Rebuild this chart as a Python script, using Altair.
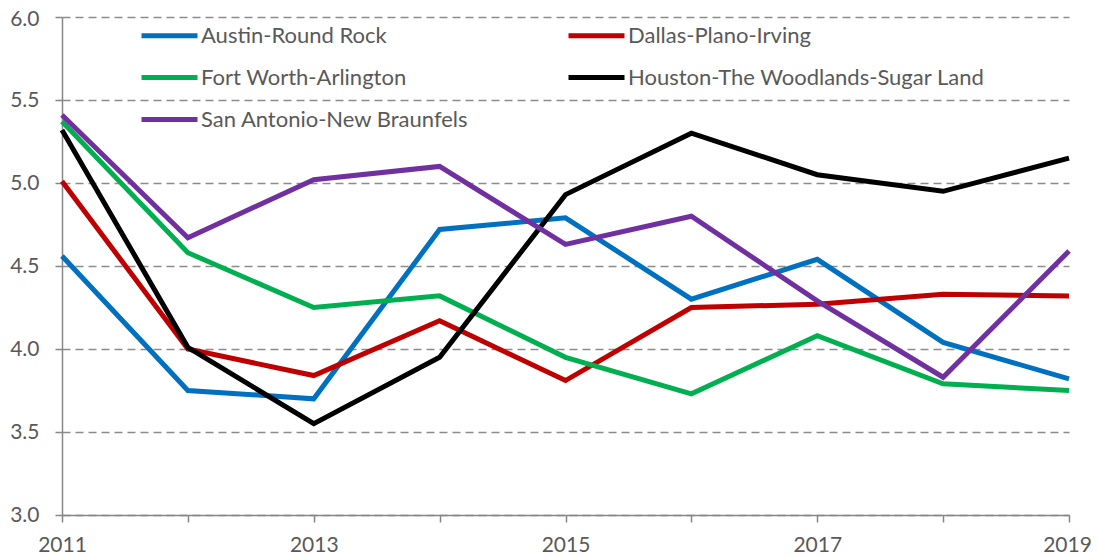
import altair as alt
import pandas as pd

years = [2011, 2012, 2013, 2014, 2015, 2016, 2017, 2018, 2019]
austin = [4.56, 3.75, 3.70, 4.72, 4.79, 4.30, 4.54, 4.04, 3.82]
dallas = [5.01, 4.00, 3.84, 4.17, 3.81, 4.25, 4.27, 4.33, 4.32]
fortworth = [5.37, 4.58, 4.25, 4.32, 3.95, 3.73, 4.08, 3.79, 3.75]
houston = [5.32, 4.01, 3.55, 3.95, 4.93, 5.30, 5.05, 4.95, 5.15]
sanantonio = [5.41, 4.67, 5.02, 5.10, 4.63, 4.80, 4.29, 3.83, 4.59]

names = ["Austin-Round Rock", "Dallas-Plano-Irving", "Fort Worth-Arlington",
         "Houston-The Woodlands-Sugar Land", "San Antonio-New Braunfels"]
colors = ["#0070C0", "#C00000", "#00B050", "#000000", "#7030A0"]
series = [austin, dallas, fortworth, houston, sanantonio]

rows = []
for n, vals in zip(names, series):
    for y, v in zip(years, vals):
        rows.append({"year": y, "value": v, "metro": n})
df = pd.DataFrame(rows)

FONT = "Lato"
GRAY = "#595959"

chart = alt.Chart(df).mark_line(strokeWidth=5, strokeJoin="miter").encode(
    x=alt.X("year:Q", scale=alt.Scale(domain=[2011, 2019], nice=False, zero=False),
            axis=alt.Axis(values=years, format="d", grid=False, title=None,
                          labelExpr="datum.value % 2 == 1 ? datum.label : ''",
                          labelFlush=False, labelOverlap=False,
                          labelOffset={"condition": {"test": "datum.value == 2019", "value": -2},
                                       "value": 0},
                          tickSize=7, tickColor="#868686", domainColor="#868686",
                          domainWidth=1.5, tickWidth=1.5, labelPadding=12,
                          labelFontSize=21, labelColor=GRAY, labelFont=FONT)),
    y=alt.Y("value:Q", scale=alt.Scale(domain=[3.0, 6.0], nice=False, zero=False),
            axis=alt.Axis(values=[3.0, 3.5, 4.0, 4.5, 5.0, 5.5, 6.0], format=".1f",
                          title=None, grid=True, gridDash=[8, 5], gridColor="#8C8C8C",
                          gridWidth=1.3, tickSize=7, tickColor="#868686",
                          domainColor="#868686", domainWidth=1.5, tickWidth=1.5,
                          labelOffset={"condition": {"test": "datum.value == 6", "value": 2},
                                       "value": 0},
                          labelPadding=16, labelFontSize=21, labelColor=GRAY,
                          labelFont=FONT, labelFlush=False)),
    color=alt.Color("metro:N", scale=alt.Scale(domain=names, range=colors),
                    legend=alt.Legend(orient="none", legendX=77, legendY=-12,
                                      columns=2, direction="horizontal",
                                      title=None, symbolType="stroke",
                                      symbolSize=3136, symbolStrokeWidth=5,
                                      labelFontSize=22, labelColor=GRAY, labelFont=FONT,
                                      labelOffset=1, labelLimit=500, rowPadding=-15.8,
                                      columnPadding=89, padding=0)),
    order=alt.Order("year:Q"),
).properties(
    width=1007, height=498,
    autosize=alt.AutoSizeParams(type="none"),
    padding={"left": 54, "top": 9, "right": 22, "bottom": 43},
).configure_view(stroke=None)

chart.save("out.html", embed_options={"renderer": "svg", "actions": False})
